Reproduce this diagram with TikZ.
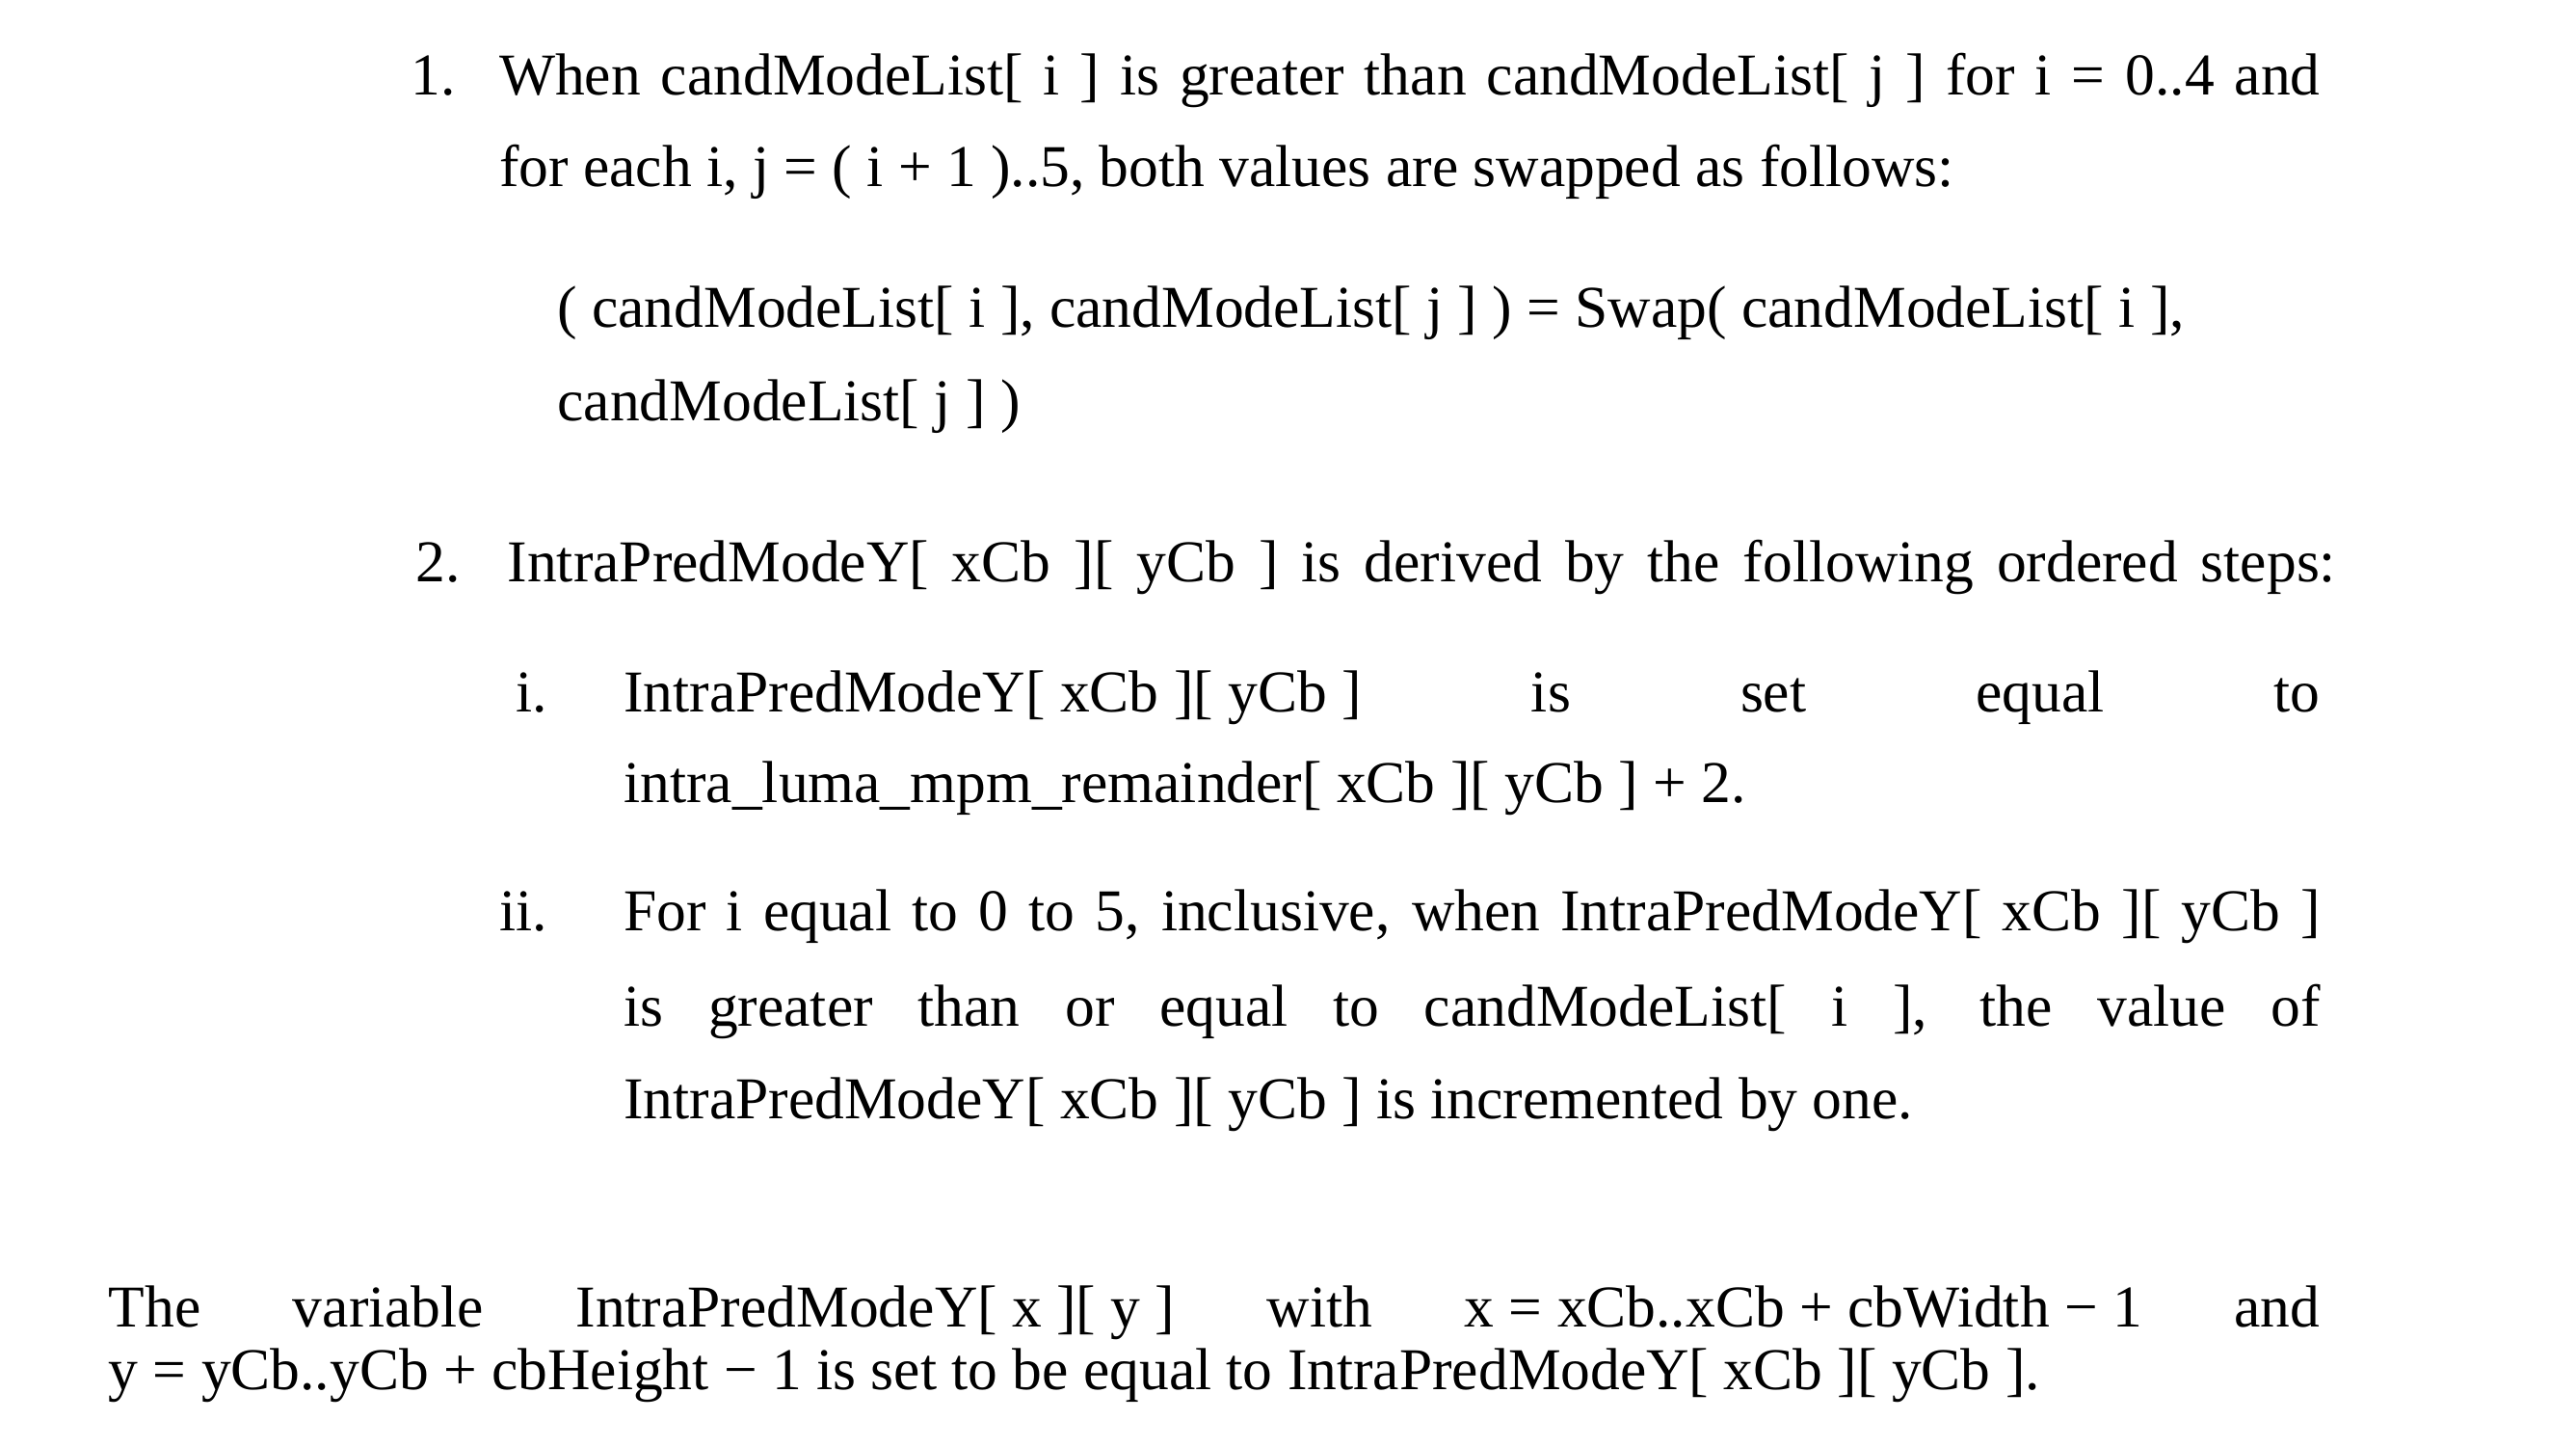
\documentclass[tikz,border=0pt]{standalone}
\usepackage{fontspec}
\setmainfont{Liberation Serif}
\usepackage{tikz}
\usetikzlibrary{positioning}
\newcommand{\fitline}[2]{\makebox[#1][s]{#2}}
\begin{document}
\begin{tikzpicture}[x=0.01725cm,y=-0.01725cm,
    txt/.style={anchor=base west,inner sep=0pt,font=\fontsize{17.5}{20}\selectfont}]
  \useasboundingbox (0,0) rectangle (1550,870);
  % item 1
  \node[txt] (n1)  at (247,57)  {1.};
  \node[txt] (l1a) at (300,57)  {\fitline{18.89cm}{When candModeList[ i ] is greater than candModeList[ j ] for i = 0..4 and}};
  \node[txt] (l1b) at (300,112) {for each i, j = ( i + 1 )..5, both values are swapped as follows:};
  \node[txt] (l1c) at (335,197) {( candModeList[ i ], candModeList[ j ] ) = Swap( candModeList[ i ],};
  \node[txt] (l1d) at (335,253) {candModeList[ j ] )};
  % item 2
  \node[txt] (n2)  at (250,350) {2.};
  \node[txt] (l2a) at (305,350) {\fitline{18.97cm}{IntraPredModeY[ xCb ][ yCb ] is derived by the following ordered steps:}};
  \node[txt] (ni)  at (310,428) {i.};
  \node[txt] (l2b) at (375,428) {\fitline{17.6cm}{IntraPredModeY[ xCb ][ yCb ] \hfill is \hfill set \hfill equal \hfill to}};
  \node[txt] (l2c) at (375,483) {intra\_luma\_mpm\_remainder[ xCb ][ yCb ] + 2.};
  \node[txt] (nii) at (300,560) {ii.};
  \node[txt] (l2d) at (375,560) {\fitline{17.6cm}{For i equal to 0 to 5, inclusive, when IntraPredModeY[ xCb ][ yCb ]}};
  \node[txt] (l2e) at (375,617) {\fitline{17.6cm}{is greater than or equal to candModeList[ i ], the value of}};
  \node[txt] (l2f) at (375,673) {IntraPredModeY[ xCb ][ yCb ] is incremented by one.};
  % closing paragraph
  \node[txt] (l3a) at (65,798)  {\fitline{22.94cm}{The \hfill variable \hfill IntraPredModeY[ x ][ y ] \hfill with \hfill x = xCb..xCb + cbWidth − 1 \hfill and}};
  \node[txt] (l3b) at (65,836)  {y = yCb..yCb + cbHeight − 1 is set to be equal to IntraPredModeY[ xCb ][ yCb ].};
\end{tikzpicture}
\end{document}
